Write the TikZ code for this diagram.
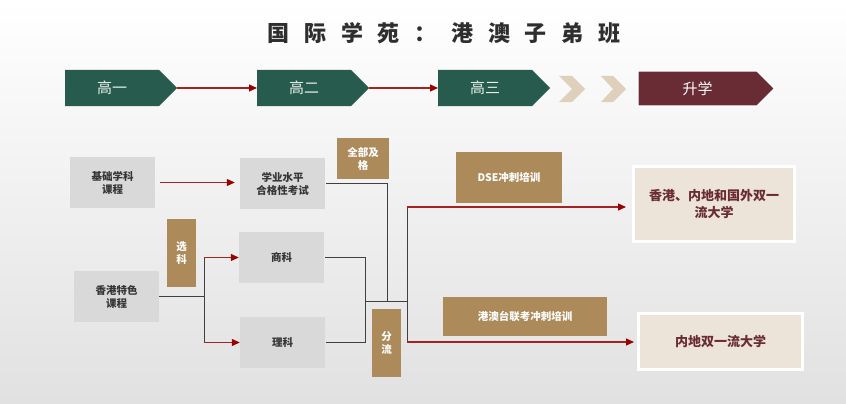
\documentclass[tikz,border=0pt]{standalone}
\usepackage{fontspec}
\setmainfont{Noto Sans CJK SC}
\usetikzlibrary{arrows.meta,shapes.symbols}
\definecolor{bggray}{HTML}{E1E1E1}
\definecolor{green1}{HTML}{275B4D}
\definecolor{maroon1}{HTML}{6A2C34}
\definecolor{beigechev}{HTML}{DFD0BB}
\definecolor{boxgray}{HTML}{D9D9D9}
\definecolor{tan1}{HTML}{AD8A5A}
\definecolor{target}{HTML}{EDE4D9}
\definecolor{redline}{HTML}{A52222}
\definecolor{redtip}{HTML}{990000}
\definecolor{txtdark}{HTML}{363636}
\definecolor{titlec}{HTML}{2E2E2E}
\definecolor{lightg}{HTML}{E6EFE8}
\tikzset{
  stage/.style={signal, signal to=east, signal pointer angle=90, fill=green1, inner sep=0pt,
    minimum width=112pt, minimum height=36pt, text=lightg, font=\fontsize{15}{15}\selectfont, anchor=west},
  graybox/.style={rectangle, fill=boxgray, inner sep=0pt, minimum width=85pt, minimum height=51pt,
    align=center, text=txtdark, font=\bfseries\fontsize{10.5}{13}\selectfont},
  tanbox/.style={rectangle, fill=tan1, inner sep=0pt, align=center, text=white,
    font=\bfseries\fontsize{10.5}{13}\selectfont},
  tgtbox/.style={rectangle, fill=target, draw=white, line width=3pt, inner sep=0pt, align=center,
    text=maroon1, font=\bfseries\fontsize{13}{17}\selectfont},
  redarrow/.style={draw=redline, line width=1.1pt, -{Triangle[length=8pt,width=7pt,color=redtip]}},
  blackline/.style={draw=black!75, line width=0.9pt},
}
\begin{document}
\begin{tikzpicture}[x=1pt,y=-1pt]
\shade[top color=white, bottom color=bggray] (0,0) rectangle (846,404);
\useasboundingbox (0,0) rectangle (846,404);
% title
\node[text=titlec, font=\bfseries\fontsize{22}{22}\selectfont] (title) at (444,33)
  {国\hspace{14.7pt}际\hspace{14.7pt}学\hspace{14.7pt}苑\hspace{14.7pt}：\hspace{14.7pt}港\hspace{14.7pt}澳\hspace{14.7pt}子\hspace{14.7pt}弟\hspace{14.7pt}班};
% stages
\node[stage] (g1) at (65,88) {高一};
\node[stage] (g2) at (257,88) {高二};
\node[stage] (g3) at (438,88) {高三};
\fill[beigechev] (559,76) -- (572,76) -- (585,89) -- (572,102) -- (559,102) -- (572,89) -- cycle;
\fill[beigechev] (601,76) -- (613,76) -- (626,89) -- (613,102) -- (601,102) -- (613,89) -- cycle;
\node[stage, fill=maroon1, draw=white, line width=1.5pt, minimum width=137pt, minimum height=35pt, text=white] (sx) at (637,88.5) {升学};
\draw[redarrow] (g1.east) -- (g2.west);
\draw[redarrow] (g2.east) -- (g3.west);
% boxes
\node[graybox] (jc) at (112.5,182.5) {基础学科\\课程};
\node[graybox] (xy) at (282.5,183.5) {学业水平\\合格性考试};
\node[graybox] (hk) at (116.5,296.5) {香港特色\\课程};
\node[graybox] (sk) at (281.5,257.5) {商科};
\node[graybox] (lk) at (282.5,342.5) {理科};
\node[tanbox, minimum width=52pt, minimum height=41pt] (qb) at (363,158.5) {全部及\\格};
\node[tanbox, minimum width=29pt, minimum height=68pt] (xk) at (181.5,253) {选\\科};
\node[tanbox, minimum width=29pt, minimum height=68pt] (fl) at (386.5,343) {分\\流};
\node[tanbox, minimum width=106pt, minimum height=51pt] (dse) at (509,177.5) {DSE冲刺培训};
\node[tanbox, minimum width=164pt, minimum height=39pt] (gat) at (525,316.5) {港澳台联考冲刺培训};
\node[tgtbox, minimum width=161pt, minimum height=75pt] (t1) at (714,204) {香港、内地和国外双一\\流大学};
\node[tgtbox, minimum width=164pt, minimum height=56pt] (t2) at (720.5,341.5) {内地双一流大学};
% connectors
\draw[redarrow, shorten <=5pt, shorten >=5pt] (jc.east) -- (xy.west |- jc.east);
\coordinate (br) at (204,296.5);
\draw[blackline] (hk.east) -- (br);
\draw[blackline] (br |- sk.west) -- (br |- lk.west);
\draw[redarrow] (br |- sk.west) -- (sk.west);
\draw[redarrow] (br |- lk.west) -- (lk.west);
\coordinate (jn) at (365,301);
\coordinate (sp) at (407,301);
\draw[blackline] ([xshift=1pt]sk.east) -| (jn |- lk.east) -- ([xshift=1pt]lk.east);
\draw[blackline] ([xshift=1pt]xy.east) -| (387,301);
\draw[blackline] (jn) -- (sp);
\coordinate (a1) at (407,207);
\coordinate (a2) at (407,342);
\draw[blackline] (a1) -- (a2);
\draw[redarrow, shorten >=6pt] (a1) -- (t1.west |- a1);
\draw[redarrow, shorten >=3pt] (a2) -- (t2.west |- a2);
\end{tikzpicture}
\end{document}
